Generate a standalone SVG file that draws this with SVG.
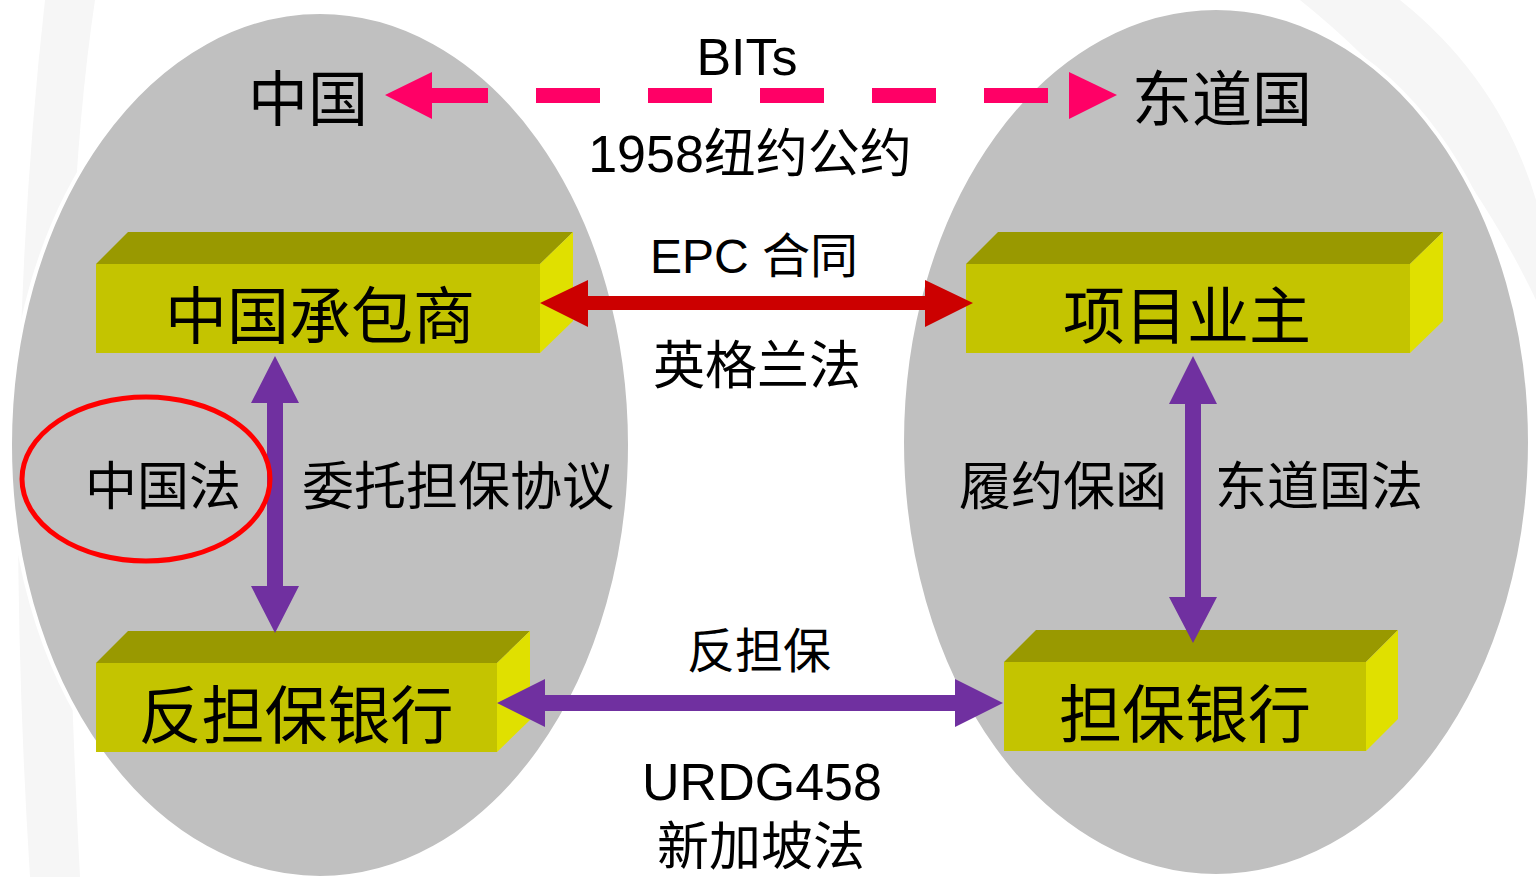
<svg xmlns="http://www.w3.org/2000/svg" width="1536" height="877" viewBox="0 0 1536 877">
<style>
.cjk{font-family:"Noto Sans CJK SC","Noto Sans CJK JP",sans-serif;fill:#000;text-anchor:middle}
.lat{font-family:"Liberation Sans",Arial,sans-serif;fill:#000;text-anchor:middle}
.top{fill:#999900}.front{fill:#C4C400}.side{fill:#E0E000}
.pk{fill:#FF0066}.rd{fill:#CC0000}.pu{fill:#7030A0}
</style>
<rect x="0" y="0" width="1536" height="877" fill="#fff"/>
<g id="background" fill="#f6f6f6">
<path d="M45 0 L95 0 Q50 300 80 877 L30 877 Q0 400 45 0 Z"/>
<path d="M1300 0 L1400 0 Q1500 80 1536 200 L1536 300 Q1450 120 1300 0 Z"/>
</g>
<g id="ellipse-china"><ellipse cx="320" cy="445" rx="310" ry="433" fill="#C0C0C0" stroke="#fff" stroke-width="4"/></g>
<g id="ellipse-host"><ellipse cx="1216" cy="442" rx="314" ry="434" fill="#C0C0C0" stroke="#fff" stroke-width="4"/></g>

<g id="label-china"><text class="cjk" x="308" y="121" font-size="60">中国</text></g>
<g id="label-host"><text class="cjk" x="1222" y="121" font-size="60">东道国</text></g>

<g id="node-contractor">
<polygon class="top" points="96,264 128,232 573,232 540,264"/>
<polygon class="side" points="540,264 573,232 573,321 540,353"/>
<rect class="front" x="96" y="264" width="444" height="89"/>
<text class="cjk" x="320" y="339" font-size="62">中国承包商</text>
</g>
<g id="node-owner">
<polygon class="top" points="966,264 998,232 1443,232 1410,264"/>
<polygon class="side" points="1410,264 1443,232 1443,321 1410,353"/>
<rect class="front" x="966" y="264" width="444" height="89"/>
<text class="cjk" x="1187" y="339" font-size="62">项目业主</text>
</g>
<g id="node-counter-bank">
<polygon class="top" points="96,663 128,631 530,631 497,663"/>
<polygon class="side" points="497,663 530,631 530,720 497,752"/>
<rect class="front" x="96" y="663" width="401" height="89"/>
<text class="cjk" x="296" y="738" font-size="63">反担保银行</text>
</g>
<g id="node-guarantee-bank">
<polygon class="top" points="1004,662 1036,630 1398,630 1366,662"/>
<polygon class="side" points="1366,662 1398,630 1398,719 1366,751"/>
<rect class="front" x="1004" y="662" width="362" height="89"/>
<text class="cjk" x="1185" y="737" font-size="63">担保银行</text>
</g>

<g id="connectors">
<g id="bits-arrow">
<polygon class="pk" points="385,95 432,72 432,88 488,88 488,103 432,103 432,119"/>
<rect class="pk" x="536" y="88" width="64" height="15"/>
<rect class="pk" x="648" y="88" width="64" height="15"/>
<rect class="pk" x="760" y="88" width="64" height="15"/>
<rect class="pk" x="872" y="88" width="64" height="15"/>
<rect class="pk" x="984" y="88" width="64" height="15"/>
<polygon class="pk" points="1117,95 1069,72 1069,119"/>
</g>
<polygon id="epc-arrow" class="rd" points="540,303 588,280 588,296 925,296 925,280 973,303 925,327 925,310 588,310 588,327"/>
<polygon id="left-vertical" class="pu" points="275,356 299,403 283,403 283,586 299,586 275,633 251,586 267,586 267,403 251,403"/>
<polygon id="right-vertical" class="pu" points="1193,356 1217,404 1201,404 1201,597 1217,597 1193,643 1169,597 1185,597 1185,404 1169,404"/>
<polygon id="bottom-horizontal" class="pu" points="497,703 545,679 545,695 955,695 955,679 1003,703 955,727 955,711 545,711 545,727"/>
</g>

<g id="highlight"><ellipse cx="146" cy="479" rx="124" ry="82" fill="none" stroke="#FF0000" stroke-width="5"/></g>

<g id="labels">
<text class="lat" x="747" y="75" font-size="52">BITs</text>
<text class="cjk" x="750" y="172" font-size="52"><tspan font-family="Liberation Sans">1958</tspan>纽约公约</text>
<text class="cjk" x="754" y="273" font-size="48"><tspan font-family="Liberation Sans">EPC </tspan>合同</text>
<text class="cjk" x="757" y="384" font-size="52">英格兰法</text>
<text class="cjk" x="163" y="505" font-size="52">中国法</text>
<text class="cjk" x="458" y="505" font-size="52">委托担保协议</text>
<text class="cjk" x="1063" y="505" font-size="52">履约保函</text>
<text class="cjk" x="1319" y="505" font-size="52">东道国法</text>
<text class="cjk" x="759" y="668" font-size="48">反担保</text>
<text class="lat" x="762" y="800" font-size="52">URDG458</text>
<text class="cjk" x="761" y="865" font-size="52">新加坡法</text>
</g>
</svg>
